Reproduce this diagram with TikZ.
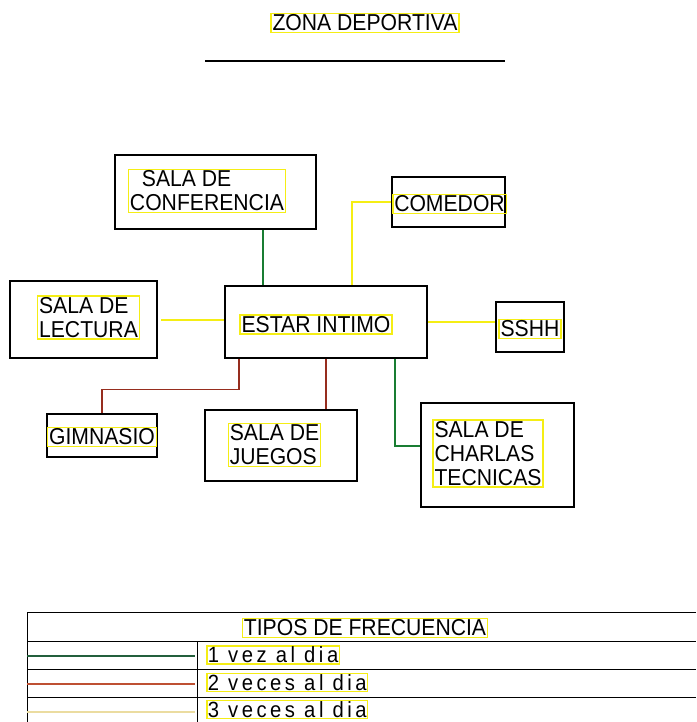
\documentclass[tikz,border=0pt]{standalone}
\usepackage{fontspec}
\setmainfont{Liberation Sans}[FakeStretch=0.92]
\definecolor{amarillo}{RGB}{245,238,20}
\definecolor{verde}{RGB}{25,125,50}
\definecolor{rojo}{RGB}{150,45,30}
\definecolor{verdeley}{RGB}{35,95,60}
\definecolor{rojoley}{RGB}{190,80,50}
\definecolor{amarilloley}{RGB}{235,220,160}
\begin{document}
\begin{tikzpicture}[x=1pt,y=-1pt,
  sala/.style={draw=black,line width=1.6pt,inner sep=0pt},
  rotulo/.style={draw=amarillo,line width=1.5pt,inner sep=1.5pt,align=left,
    font=\fontsize{23}{24}\selectfont},
  fila/.style={rotulo,anchor=west,inner sep=1pt,font=\fontsize{22}{24}\selectfont\addfontfeature{LetterSpace=16}},
  frec1/.style={verde,line width=1.5pt},
  frec2/.style={rojo,line width=1.2pt},
  frec3/.style={amarillo,line width=2pt}]
\useasboundingbox (0,0) rectangle (696,722);

% titulo
\node[rotulo] (titulo) at (365,23) {ZONA DEPORTIVA};
\draw[line width=1.6pt] (205,61) -- (505,61);

% ambientes
\node[sala,minimum width=201pt,minimum height=74pt] (conf) at (215.5,192) {};
\node[sala,minimum width=113pt,minimum height=50pt] (comedor) at (448.5,202) {};
\node[sala,minimum width=202pt,minimum height=72pt] (estar) at (326,322) {};
\node[sala,minimum width=147pt,minimum height=77pt] (lectura) at (83.5,319.5) {};
\node[sala,minimum width=68pt,minimum height=50pt] (sshh) at (530,327) {};
\node[sala,minimum width=110pt,minimum height=43pt] (gimnasio) at (102,435.5) {};
\node[sala,minimum width=152pt,minimum height=71pt] (juegos) at (281,445.5) {};
\node[sala,minimum width=153pt,minimum height=104pt] (charlas) at (497.5,455) {};

\node[rotulo] (tconf) at (207,191) {\hspace{12pt}SALA DE\\CONFERENCIA};
\node[rotulo] (tcomedor) at (449.5,204) {COMEDOR};
\node[rotulo] (testar) at (316,324.5) {ESTAR INTIMO};
\node[rotulo] (tlectura) at (88.5,317.5) {SALA DE\\LECTURA};
\node[rotulo] (tsshh) at (530,329) {SSHH};
\node[rotulo] (tgimnasio) at (102,437) {GIMNASIO};
\node[rotulo] (tjuegos) at (274.5,445) {SALA DE\\JUEGOS};
\node[rotulo] (tcharlas) at (488,453.5) {SALA DE\\CHARLAS\\TECNICAS};

% relaciones
\coordinate (pconf) at ([xshift=-63pt]estar.north);
\coordinate (pcomedor) at ([xshift=26pt]estar.north);
\coordinate (pgim) at ([xshift=-87pt]estar.south);
\coordinate (pcharlas) at ([xshift=69pt]estar.south);
\draw[frec1] (pconf) -- (pconf |- conf.south);
\draw[frec3] (comedor.west) -| (pcomedor);
\draw[frec3] ([xshift=3pt]lectura.east) -- (lectura.east -| estar.west);
\draw[frec3] (estar.east) -- (estar.east -| sshh.west);
\draw[frec2] (pgim) -- ++(0,31) -| (gimnasio.north);
\draw[frec2] (estar.south) -- (estar.south |- juegos.north);
\draw[frec1] (pcharlas) |- ([yshift=9pt]charlas.west);

% leyenda
\draw[line width=1pt] (696,612) -- (27,612) -- (27,722);
\draw[line width=1pt] (27,641) -- (696,641);
\draw[line width=1pt] (27,669) -- (696,669);
\draw[line width=1pt] (27,697) -- (696,697);
\draw[line width=1pt] (197,641) -- (197,722);
\node[rotulo] (tipos) at (365,628) {TIPOS DE FRECUENCIA};
\node[fila] (f1) at (206,655) {1 vez al dia};
\node[fila] (f2) at (206,682.5) {2 veces al dia};
\node[fila] (f3) at (206,709.5) {3 veces al dia};
\draw[verdeley,line width=1.3pt] (27,656) -- (195,656);
\draw[rojoley,line width=1.6pt] (27,684) -- (195,684);
\draw[amarilloley,line width=1.8pt] (27,712) -- (195,712);
\end{tikzpicture}
\end{document}
